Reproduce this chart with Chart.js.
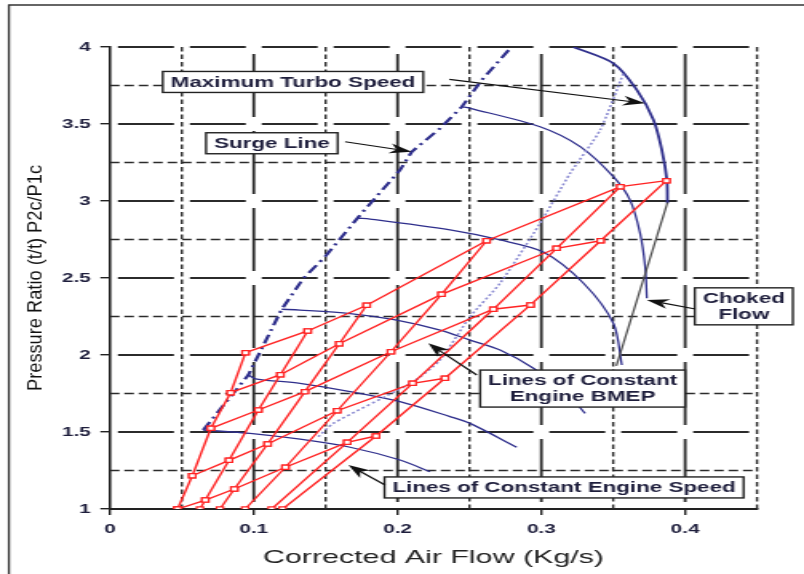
<!DOCTYPE html>
<html>
<head>
<meta charset="utf-8">
<script src="https://cdn.jsdelivr.net/npm/chart.js@4.4.0/dist/chart.umd.min.js"></script>
<style>
  html, body { margin: 0; padding: 0; background: #fff; overflow: hidden; }
  /* the source figure is a horizontally stretched image, so the drawing is stretched the same way */
  #wrap { width: 503px; height: 574px; transform: scaleX(1.5984); transform-origin: 0 0; }
  canvas { display: block; }
</style>
</head>
<body>
<div id="wrap"><canvas id="map" width="503" height="574" style="width:503px;height:574px"></canvas></div>
<script>
// ---- axes / grid ----
const xTicks = [0, 0.1, 0.2, 0.3, 0.4];
const yTicks = [1, 1.5, 2, 2.5, 3, 3.5, 4];
const xMajorGrid = [0.1, 0.2, 0.3, 0.4];
const xMinorGrid = [0.05, 0.15, 0.25, 0.35, 0.45];
const yMajorGrid = [1.5, 2, 2.5, 3, 3.5, 4];
const yMinorGrid = [1.25, 1.75, 2.25, 2.75, 3.25, 3.75];
const yTitle = 'Pressure Ratio (t/t) P2c/P1c';

// ---- engine operating points: one row per engine speed, one column per BMEP level ----
const speedFlow = [
  [0.047, 0.047, 0.0572, 0.0702, 0.0839, 0.0943],
  [0.0626, 0.0663, 0.0828, 0.1032, 0.1185, 0.1375],
  [0.0765, 0.0865, 0.1096, 0.1356, 0.1595, 0.1785],
  [0.094, 0.122, 0.158, 0.1954, 0.2306, 0.2619],
  [0.1124, 0.165, 0.2105, 0.2666, 0.3106, 0.355],
  [0.12, 0.185, 0.233, 0.2925, 0.3412, 0.387]
];
const speedPR = [
  [1, 1, 1.216, 1.524, 1.755, 2.015],
  [1, 1.058, 1.316, 1.643, 1.872, 2.156],
  [1, 1.13, 1.422, 1.762, 2.073, 2.323],
  [1, 1.271, 1.638, 2.021, 2.394, 2.742],
  [1, 1.433, 1.816, 2.297, 2.693, 3.093],
  [1, 1.474, 1.849, 2.325, 2.742, 3.132]
];
const bmepLevels = [1, 2, 3, 4, 5];

// ---- compressor constant-speed lines (last one = maximum turbo speed) ----
const wheelFlow = [
  [0.0649, 0.0974, 0.1322, 0.167, 0.2017, 0.2226],
  [0.0962, 0.1021, 0.1322, 0.167, 0.2017, 0.2365, 0.2504, 0.2829],
  [0.1194, 0.1322, 0.167, 0.1994, 0.2296, 0.2504, 0.2713, 0.2945, 0.3177, 0.3304],
  [0.1727, 0.1809, 0.2365, 0.2713, 0.3014, 0.3293, 0.3501, 0.356],
  [0.2447, 0.2504, 0.2991, 0.327, 0.3501, 0.3617, 0.3687, 0.3722, 0.3734],
  [0.3223, 0.3501, 0.3664, 0.378, 0.3838, 0.3873, 0.3877]
];
const wheelPR = [
  [1.513, 1.491, 1.453, 1.401, 1.318, 1.242],
  [1.870, 1.844, 1.816, 1.762, 1.697, 1.600, 1.556, 1.401],
  [2.297, 2.292, 2.269, 2.227, 2.162, 2.097, 2.032, 1.914, 1.751, 1.621],
  [2.888, 2.883, 2.812, 2.747, 2.669, 2.466, 2.206, 1.935],
  [3.612, 3.602, 3.482, 3.353, 3.158, 3.006, 2.790, 2.573, 2.368],
  [4.0, 3.894, 3.721, 3.526, 3.331, 3.136, 2.985]
];

const surgeFlow = [0.0649, 0.0962, 0.1194, 0.1345, 0.1496, 0.1739, 0.2017, 0.2099, 0.2296, 0.2447, 0.2586, 0.2794];
const surgePR = [1.513, 1.870, 2.297, 2.498, 2.638, 2.909, 3.201, 3.32, 3.472, 3.612, 3.786, 4.002];

const dottedFlow = [0.1449, 0.1553, 0.211, 0.2296, 0.2504, 0.2713, 0.2991, 0.32, 0.3409, 0.3571];
const dottedPR = [1.469, 1.556, 1.827, 1.968, 2.249, 2.466, 2.855, 3.18, 3.461, 3.829];

const chokeFlow = [0.3522, 0.3877];
const chokePR = [1.93, 2.99];

// ---- call-outs: text, box centre, arrow tail, arrow tip (data units) ----
const notes = [
  { text: ['Maximum Turbo Speed'], at: [0.1273, 3.773], from: [0.236, 3.79], to: [0.3722, 3.634] },
  { text: ['Surge Line'], at: [0.1126, 3.375], from: [0.1635, 3.385], to: [0.2099, 3.32] },
  { text: ['Choked', 'Flow'], at: [0.4408, 2.316], from: [0.407, 2.299], to: [0.3733, 2.357] },
  { text: ['Lines of Constant', 'Engine BMEP'], at: [0.3287, 1.782], from: [0.2551, 1.870], to: [0.2214, 2.076] },
  { text: ['Lines of Constant Engine Speed'], at: [0.3158, 1.14], from: [0.1913, 1.156], to: [0.1658, 1.286] }
];

const FONT = "'Liberation Sans', Arial, sans-serif";
const INK = '#1e1e3c';
const RED = '#ff2424';
const NAVY = '#2f2f8c';
const GRID = '#2b2b2b';

const pts = (xs, ys) => xs.map((v, i) => ({ x: v, y: ys[i] }));

const datasets = [];
speedFlow.forEach((row, i) => {
  datasets.push({ data: pts(row, speedPR[i]), borderColor: RED, borderWidth: 1.4, showLine: true,
    pointStyle: 'rect', pointRadius: 3, pointBorderWidth: 1.2, pointBorderColor: RED, pointBackgroundColor: '#fff' });
});
bmepLevels.forEach(k => {
  datasets.push({ data: pts(speedFlow.map(r => r[k]), speedPR.map(r => r[k])), borderColor: RED, borderWidth: 1.4,
    showLine: true, pointStyle: 'rect', pointRadius: 3, pointBorderWidth: 1.2, pointBorderColor: RED, pointBackgroundColor: '#fff' });
});
datasets.push({ data: pts(chokeFlow, chokePR), borderColor: '#4a4a4a', borderWidth: 1.2, showLine: true, pointRadius: 0 });
datasets.push({ data: pts(dottedFlow, dottedPR), borderColor: '#8c8cd2', borderWidth: 1.6, borderDash: [2, 2],
  showLine: true, pointRadius: 0, tension: 0.2 });
wheelFlow.forEach((row, i) => {
  datasets.push({ data: pts(row, wheelPR[i]), borderColor: NAVY, borderWidth: i === wheelFlow.length - 1 ? 1.8 : 1.3,
    showLine: true, pointRadius: 0, tension: 0.3 });
});
datasets.push({ data: pts(surgeFlow, surgePR), borderColor: NAVY, borderWidth: 2.2, borderDash: [9, 4, 2, 4],
  showLine: true, pointRadius: 0 });

function seg(ctx, x0, y0, x1, y1) { ctx.beginPath(); ctx.moveTo(x0, y0); ctx.lineTo(x1, y1); ctx.stroke(); }

const gridPlugin = {
  id: 'mapGrid',
  beforeDatasetsDraw(chart) {
    const { ctx, chartArea: a, scales: { x, y } } = chart;
    const stepX = x.getPixelForValue(0.05) - x.getPixelForValue(0);
    const stepY = y.getPixelForValue(1) - y.getPixelForValue(1.5);
    ctx.save();
    ctx.strokeStyle = GRID;
    ctx.lineWidth = 1.5; ctx.setLineDash([6, 3]);
    yMinorGrid.forEach(v => { const p = y.getPixelForValue(v); seg(ctx, a.left, p, a.right, p); });
    ctx.lineWidth = 1.4; ctx.setLineDash([4.5, 3]);
    xMinorGrid.forEach(v => { const p = x.getPixelForValue(v); seg(ctx, p, a.bottom, p, a.top); });
    const gx = 10;
    ctx.lineWidth = 1.8; ctx.setLineDash([stepX - gx, gx]); ctx.lineDashOffset = stepX - gx / 2;
    yMajorGrid.forEach(v => { const p = y.getPixelForValue(v); seg(ctx, a.left, p, a.right, p); });
    const gy = 14;
    ctx.setLineDash([stepY - gy, gy]); ctx.lineDashOffset = stepY - gy / 2;
    xMajorGrid.forEach(v => { const p = x.getPixelForValue(v); seg(ctx, p, a.bottom, p, a.top); });
    ctx.restore();
  }
};

function arrow(ctx, x0, y0, x1, y1) {
  const ang = Math.atan2(y1 - y0, x1 - x0), L = 14, W = 5;
  const c = Math.cos(ang), s = Math.sin(ang);
  seg(ctx, x0, y0, x1 - L * 0.6 * c, y1 - L * 0.6 * s);
  const bx = x1 - L * c, by = y1 - L * s;
  ctx.beginPath();
  ctx.moveTo(x1, y1);
  ctx.lineTo(bx - W * s, by + W * c);
  ctx.lineTo(x1 - L * 0.7 * c, y1 - L * 0.7 * s);
  ctx.lineTo(bx + W * s, by - W * c);
  ctx.closePath();
  ctx.fill();
}

const notePlugin = {
  id: 'callouts',
  afterDatasetsDraw(chart) {
    const { ctx, scales: { x, y } } = chart;
    ctx.save();
    ctx.font = 'bold 14px ' + FONT;
    ctx.textAlign = 'center';
    ctx.textBaseline = 'middle';
    notes.forEach(n => {
      const cx = x.getPixelForValue(n.at[0]), cy = y.getPixelForValue(n.at[1]);
      const w = Math.max(...n.text.map(t => ctx.measureText(t).width)) + 10;
      const lh = 16, h = n.text.length * lh + 5;
      ctx.fillStyle = '#fff';
      ctx.fillRect(cx - w / 2, cy - h / 2, w, h);
      ctx.strokeStyle = '#222'; ctx.lineWidth = 1.4; ctx.setLineDash([]);
      ctx.strokeRect(cx - w / 2, cy - h / 2, w, h);
      ctx.fillStyle = INK;
      n.text.forEach((t, i) => ctx.fillText(t, cx, cy - (n.text.length - 1) * lh / 2 + i * lh + 1));
      ctx.strokeStyle = '#111'; ctx.fillStyle = '#111'; ctx.lineWidth = 1.2;
      arrow(ctx, x.getPixelForValue(n.from[0]), y.getPixelForValue(n.from[1]),
        x.getPixelForValue(n.to[0]), y.getPixelForValue(n.to[1]));
    });
    ctx.restore();
  },
  afterDraw(chart) {
    const { ctx, width, height, chartArea: a } = chart;
    ctx.save();
    ctx.strokeStyle = '#333'; ctx.lineWidth = 1.3;
    seg(ctx, 5.6, height, 5.6, 5);
    seg(ctx, 5, 5, width, 5);
    // y-axis title: narrow face, stretched along its length as in the source
    ctx.translate(23, (a.top + a.bottom) / 2);
    ctx.rotate(-Math.PI / 2);
    ctx.font = '12.5px ' + FONT;
    ctx.scale(226 / ctx.measureText(yTitle).width, 1);
    ctx.fillStyle = '#111';
    ctx.textAlign = 'center';
    ctx.textBaseline = 'middle';
    ctx.fillText(yTitle, 0, 0);
    ctx.restore();
  }
};

new Chart(document.getElementById('map'), {
  type: 'scatter',
  data: { datasets },
  options: {
    responsive: false,
    animation: false,
    devicePixelRatio: 1,
    layout: { padding: { left: 0, right: 29.4, top: 47, bottom: 0 } },
    plugins: { legend: { display: false }, tooltip: { enabled: false } },
    scales: {
      x: {
        type: 'linear', min: 0, max: 0.45, bounds: 'data',
        afterBuildTicks: s => { s.ticks = xTicks.map(v => ({ value: v })); },
        afterFit: s => { s.height = 65; },
        grid: { display: true, drawOnChartArea: false, drawTicks: true, tickLength: 6, color: '#222', lineWidth: 1.4 },
        border: { display: true, color: '#222', width: 2 },
        ticks: { color: INK, font: { family: FONT, size: 13, weight: 'bold' }, padding: 7, maxRotation: 0, autoSkip: false,
          callback: v => String(v) },
        title: { display: true, text: 'Corrected Air Flow (Kg/s)', color: '#222', font: { family: FONT, size: 19 },
          padding: { top: 0, bottom: 5 } }
      },
      y: {
        type: 'linear', min: 1, max: 4, bounds: 'data',
        afterBuildTicks: s => { s.ticks = yTicks.map(v => ({ value: v })); },
        afterFit: s => { s.width = 68.8; },
        grid: { display: true, drawOnChartArea: false, drawTicks: true, tickLength: 6, color: '#222', lineWidth: 1.4 },
        border: { display: true, color: '#222', width: 1.6 },
        ticks: { color: INK, font: { family: FONT, size: 13, weight: 'bold' }, padding: 6, autoSkip: false,
          callback: v => String(v) },
        title: { display: false }
      }
    }
  },
  plugins: [gridPlugin, notePlugin]
});
</script>
</body>
</html>
